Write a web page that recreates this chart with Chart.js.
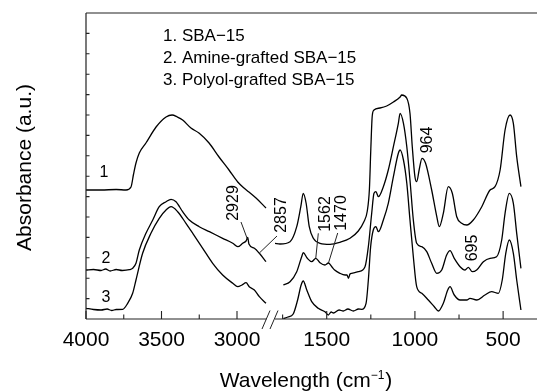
<!DOCTYPE html>
<html>
<head>
<meta charset="utf-8">
<script src="https://cdn.jsdelivr.net/npm/chart.js@4/dist/chart.umd.min.js"></script>
<style>
  html, body { margin: 0; padding: 0; background: #fff; }
  #wrap { width: 537px; height: 392px; }
</style>
</head>
<body>
<div id="wrap"><canvas id="chart" width="537" height="392"></canvas></div>
<script>
/* ===== FTIR spectra: SBA-15 / amine / polyol grafted ===== */

// [wavenumber (cm-1), absorbance (a.u., offset)]  – high region 4000-2800
const sba15High = [[4000,129],[3900,129],[3800,129.5],[3735,129],[3702,132],[3685,145],[3669,156],[3647,166],[3603,176],[3536,192],[3470,202],[3430,204],[3395,202],[3360,199],[3305,191],[3252,186],[3185,176],[3119,162],[3053,149],[2995,137],[2954,131],[2921,127],[2874,121],[2808,111]];
const amineHigh = [[4000,49],[3950,49.5],[3900,48.5],[3870,50],[3840,48],[3800,49.5],[3760,48.5],[3713,49.3],[3691,50.7],[3669,55.7],[3647,69],[3603,85.7],[3558,99],[3515,112.3],[3470,117.3],[3437,119.7],[3404,117.3],[3360,107.3],[3316,99],[3250,92.3],[3183,87.3],[3095,80.7],[3028,75.7],[2995,72.3],[2962,75.7],[2940,78],[2929,81.5],[2921,75],[2885,70.7],[2852,65.7],[2808,57.3]];
const polyolHigh = [[4000,10.7],[3950,9.5],[3900,9],[3860,10],[3830,8.5],[3800,9.5],[3757,9.7],[3724,15.7],[3691,25.7],[3669,39],[3625,65.7],[3570,85.7],[3515,100.7],[3470,109],[3437,112.3],[3393,107.3],[3338,95.7],[3293,85.7],[3227,70.7],[3161,55.7],[3095,44],[3028,35.7],[2995,32.3],[2967,34],[2940,36.3],[2919,32.3],[2885,29],[2852,22.3],[2808,15.7]];

// low region 1800-400
const sba15Low = [[1793,75.7],[1765,75],[1708,77.3],[1670,92.3],[1647,112.3],[1633,125.7],[1617,116],[1599,92.3],[1576,80.7],[1538,75.7],[1481,74.7],[1425,76.7],[1368,80.7],[1321,88],[1290,97],[1270,108],[1258,130],[1250,170],[1242,203],[1232,209],[1198,211],[1160,213],[1122,217],[1084,222],[1075,224],[1046,220.7],[1028,205.7],[1015,172.3],[1000,142.3],[990,137.3],[975,150],[960,160.7],[940,156],[905,129],[876,102.3],[862,92.3],[839,105.7],[811,132.3],[788,125.7],[763,102.3],[735,95.7],[706,94],[669,99],[621,112.3],[574,129],[546,132.3],[517,149],[489,189],[461,204],[442,195.7],[423,162.3],[399,132.3]];
const amineLow = [[1746,34],[1708,37.3],[1670,47.3],[1642,62.3],[1633,66.3],[1610,60.7],[1585,57.3],[1562,60.7],[1538,56.3],[1510,54],[1490,56],[1470,52],[1455,49],[1425,45.7],[1396,44],[1385,44],[1377,40.7],[1368,45],[1358,45.7],[1321,47.3],[1283,52.3],[1264,72.3],[1245,105.7],[1232,125.7],[1221,127.3],[1207,122.3],[1179,132.3],[1151,149],[1122,172.3],[1094,195.7],[1084,205.7],[1065,195.7],[1046,172.3],[1028,139],[1009,99],[990,75.7],[961,72.3],[933,67.3],[905,55.7],[876,45.7],[848,49],[820,64],[801,68.3],[777,60.7],[744,52.3],[716,49],[697,51.7],[675,47.3],[650,49],[612,57.3],[574,60.7],[537,62.3],[508,79],[489,105.7],[465,125.7],[442,115.7],[423,85.7],[399,50.7]];
const polyolLow = [[1746,0.5],[1720,2],[1690,5],[1665,19],[1645,34],[1633,38],[1613,29],[1585,17.3],[1548,10.7],[1510,7.3],[1491,4],[1475,7],[1462,6],[1430,9],[1406,8],[1380,10],[1349,8],[1320,10],[1302,9.7],[1277,15.7],[1264,39],[1251,72.3],[1236,89],[1221,92.3],[1207,87.3],[1179,99],[1151,115.7],[1122,142.3],[1094,165.7],[1084,169],[1065,159],[1046,135.7],[1028,99],[1009,62.3],[990,32.3],[961,25.7],[924,19],[890,12.3],[867,8],[839,15.7],[814,29],[801,32.3],[777,24],[744,19],[706,19],[688,20.7],[650,19],[603,24],[565,27.3],[527,25.7],[505,39],[485,65.7],[465,79],[442,65.7],[423,39],[399,9]];

const majorTicks = [4000, 3500, 3000, 1500, 1000, 500];
const minorTicks = [3750, 3250, 1750, 1250, 750];
const legendLines = ["1. SBA\u221215", "2. Amine-grafted SBA\u221215", "3. Polyol-grafted SBA\u221215"];
const curveLabels = ["1", "2", "3"];
const peakLabels = ["2929", "2857", "1562", "1470", "964", "695"];

// broken axis: 4000-2800 and 1800-400 put on one linear scale
const xUnit = w => w >= 2300 ? (4000 - w) * 0.151 : 187.8 + (1800 - w) * 0.1764;
const pts = arr => arr.map(([w, a]) => ({ x: xUnit(w), y: a }));

const FONT = '"Liberation Sans", Arial, sans-serif';

const deco = {
  id: "deco",
  afterDraw(chart) {
    const ctx = chart.ctx;
    const { left, right, top, bottom } = chart.chartArea;
    const xs = chart.scales.x, ys = chart.scales.y;
    const px = w => xs.getPixelForValue(xUnit(w));
    const py = v => ys.getPixelForValue(v);
    ctx.save();
    ctx.strokeStyle = "#222";
    ctx.lineWidth = 1.2;

    // frame (top, left, broken bottom)
    const bL = px(2800), bR = px(1800), mid = (bL + bR) / 2;
    ctx.beginPath();
    ctx.moveTo(left, top); ctx.lineTo(right, top);
    ctx.moveTo(left, top); ctx.lineTo(left, bottom);
    ctx.moveTo(left, bottom); ctx.lineTo(mid - 4, bottom);
    ctx.moveTo(mid + 4.5, bottom); ctx.lineTo(right, bottom);
    ctx.stroke();
    // break marks
    ctx.lineWidth = 1;
    ctx.beginPath();
    ctx.moveTo(mid - 8.5, bottom + 10); ctx.lineTo(mid - 0.5, bottom - 8.5);
    ctx.moveTo(mid - 0.5, bottom + 10); ctx.lineTo(mid + 7.5, bottom - 8.5);
    ctx.stroke();

    // ticks (inward)
    ctx.lineWidth = 1.1;
    ctx.beginPath();
    majorTicks.forEach(w => { ctx.moveTo(px(w), bottom); ctx.lineTo(px(w), bottom - 8); });
    minorTicks.forEach(w => { ctx.moveTo(px(w), bottom); ctx.lineTo(px(w), bottom - 4.5); });
    for (let i = 1; i < 15; i++) { const y = py(i * 20.4); ctx.moveTo(left, y); ctx.lineTo(left + 3.5, y); }
    ctx.stroke();

    ctx.fillStyle = "#000";
    // tick labels
    ctx.font = "21px " + FONT;
    ctx.textAlign = "center";
    ctx.textBaseline = "alphabetic";
    majorTicks.forEach(w => ctx.fillText(String(w), px(w), bottom + 27));

    // x title with superscript
    const t1 = "Wavelength (cm", sup = "\u22121", t3 = ")";
    ctx.font = "21px " + FONT; const w1 = ctx.measureText(t1).width, w3 = ctx.measureText(t3).width;
    ctx.font = "12px " + FONT; const w2 = ctx.measureText(sup).width;
    let x0 = 306 - (w1 + w2 + w3 + 1) / 2;
    ctx.textAlign = "left";
    ctx.font = "21px " + FONT; ctx.fillText(t1, x0, 387);
    ctx.font = "12px " + FONT; ctx.fillText(sup, x0 + w1, 379);
    ctx.font = "21px " + FONT; ctx.fillText(t3, x0 + w1 + w2 + 1, 387);

    // y title
    ctx.save();
    ctx.translate(25.5, 167.5);
    ctx.rotate(-Math.PI / 2);
    ctx.textAlign = "center";
    ctx.textBaseline = "middle";
    ctx.font = "21px " + FONT;
    ctx.fillText("Absorbance (a.u.)", 0, 0);
    ctx.restore();

    // legend text
    ctx.font = "17px " + FONT;
    ctx.textAlign = "left";
    legendLines.forEach((s, i) => ctx.fillText(s, 163, 40.7 + i * 22.2));

    // curve numbers
    ctx.font = "16px " + FONT;
    ctx.textAlign = "center";
    const numPos = [[104, 177], [106, 263.3], [106, 302.3]];
    curveLabels.forEach((s, i) => ctx.fillText(s, numPos[i][0], numPos[i][1]));

    // peak labels, rotated
    const peakPos = [[234, 203], [281.5, 215], [325.8, 214], [341.7, 213], [427.5, 140], [473, 248]];
    ctx.font = "16px " + FONT;
    ctx.textBaseline = "middle";
    peakLabels.forEach((s, i) => {
      ctx.save();
      ctx.translate(peakPos[i][0], peakPos[i][1]);
      ctx.rotate(-Math.PI / 2);
      ctx.fillText(s, 0, 0);
      ctx.restore();
    });
    // leader lines
    ctx.lineWidth = 1;
    ctx.beginPath();
    ctx.moveTo(241, 222); ctx.lineTo(px(2929), py(79));
    ctx.moveTo(277, 236); ctx.lineTo(px(2852), py(66));
    ctx.moveTo(318.3, 233.3); ctx.lineTo(px(1562), py(61));
    ctx.moveTo(337.7, 233); ctx.lineTo(px(1490), py(56));
    ctx.stroke();
    ctx.restore();
  }
};

const line = d => ({ data: pts(d), borderColor: "#000", borderWidth: 1.3, pointRadius: 0,
  fill: false, cubicInterpolationMode: "monotone" });

new Chart(document.getElementById("chart"), {
  type: "line",
  data: { datasets: [sba15High, amineHigh, polyolHigh, sba15Low, amineLow, polyolLow].map(line) },
  options: {
    responsive: false, animation: false, devicePixelRatio: 1,
    layout: { padding: { left: 86, top: 13, right: 0, bottom: 73 } },
    plugins: { legend: { display: false }, tooltip: { enabled: false } },
    scales: {
      x: { type: "linear", min: 0, max: 451, display: false },
      y: { min: 0, max: 306, display: false }
    }
  },
  plugins: [deco]
});
</script>
</body>
</html>
